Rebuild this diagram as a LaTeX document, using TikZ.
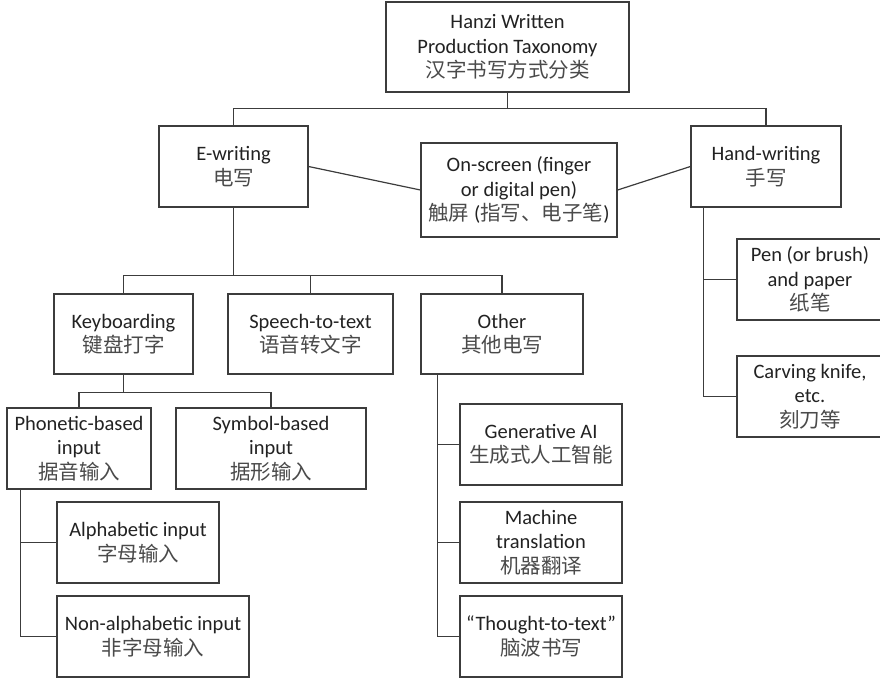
\documentclass[tikz,border=0pt]{standalone}
\usepackage{fontspec}
\setmainfont{Carlito}
\newfontfamily\cjk{Noto Sans CJK SC}
\definecolor{inkGray}{HTML}{222222}
\definecolor{hanGray}{HTML}{4A4A4A}
\definecolor{lineGray}{HTML}{3C3C3C}
\newcommand{\zh}[1]{{\cjk\color{hanGray}#1}}

\begin{document}
\begin{tikzpicture}[x=1pt, y=-1pt, font=\fontsize{20.5}{24.5}\selectfont, text=inkGray,
    box/.style={draw=lineGray, line width=1.2pt, inner sep=0pt, align=center, fill=white,
      minimum width=162pt, minimum height=81pt},
    link/.style={draw=lineGray, line width=1.2pt}]
  \useasboundingbox (0,0) rectangle (880,678);
  \clip (0,0) rectangle (880,678);

  % top levels
  \node[box, minimum width=243pt, minimum height=90pt] (root) at (507.5,47)
    {Hanzi Written\\Production Taxonomy\\\zh{汉字书写方式分类}};
  \node[box, minimum width=149pt] (ewr) at (233.5,166.5) {E-writing\\\zh{电写}};
  \node[box, minimum width=196pt, minimum height=94pt] (ons) at (519,190)
    {On-screen (finger\\or digital pen)\\\zh{触屏} (\zh{指写、电子笔})};
  \node[box, minimum width=150pt] (hnd) at (766,166.5) {Hand-writing\\\zh{手写}};

  % e-writing branches
  \node[box, minimum width=139pt, minimum height=80pt] (kbd) at (123.5,334) {Keyboarding\\\zh{键盘打字}};
  \node[box, minimum width=165pt, minimum height=80pt] (spe) at (310.5,334) {Speech-to-text\\\zh{语音转文字}};
  \node[box, minimum height=80pt] (oth) at (502,334) {Other\\\zh{其他电写}};

  \node[box, minimum width=144pt] (pho) at (79,448.5) {Phonetic-based\\input\\\zh{据音输入}};
  \node[box, minimum width=190pt] (sym) at (271,448.5) {Symbol-based\\input\\\zh{据形输入}};
  \node[box] (alp) at (138,542.5) {Alphabetic input\\\zh{字母输入}};
  \node[box, minimum width=192pt] (nal) at (153,636.5) {Non-alphabetic input\\\zh{非字母输入}};

  \node[box] (gen) at (541,444.5) {Generative AI\\\zh{生成式人工智能}};
  \node[box] (mac) at (541,542.5) {Machine\\translation\\\zh{机器翻译}};
  \node[box] (tht) at (541,636.5) {“Thought-to-text”\\\zh{脑波书写}};

  % hand-writing branches
  \node[box, minimum width=146pt] (pen) at (810,279.5) {Pen (or brush)\\and paper\\\zh{纸笔}};
  \node[box, minimum width=146pt] (crv) at (810,396.5) {Carving knife,\\etc.\\\zh{刻刀等}};

  % connectors
  \draw[link] (root.south) -- ++(0,16) -| (ewr.north);
  \draw[link] (root.south) -- ++(0,16) -| (hnd.north);
  \draw[link] (ewr.east) -- (ons.west);
  \draw[link] (hnd.west) -- (ons.east);
  \draw[link] (ewr.south) -- ++(0,68) -| (kbd.north);
  \draw[link] (ewr.south) -- ++(0,68) -| (spe.north);
  \draw[link] (ewr.south) -- ++(0,68) -| (oth.north);
  \draw[link] (kbd.south) -- ++(0,18) -| (pho.north);
  \draw[link] (kbd.south) -- ++(0,18) -| (sym.north);
  \draw[link] ([xshift=14pt]pho.south west) |- (alp.west);
  \draw[link] ([xshift=14pt]pho.south west) |- (nal.west);
  \draw[link] ([xshift=17pt]oth.south west) |- (gen.west);
  \draw[link] ([xshift=17pt]oth.south west) |- (mac.west);
  \draw[link] ([xshift=17pt]oth.south west) |- (tht.west);
  \draw[link] ([xshift=13pt]hnd.south west) |- (pen.west);
  \draw[link] ([xshift=13pt]hnd.south west) |- (crv.west);
\end{tikzpicture}
\end{document}
